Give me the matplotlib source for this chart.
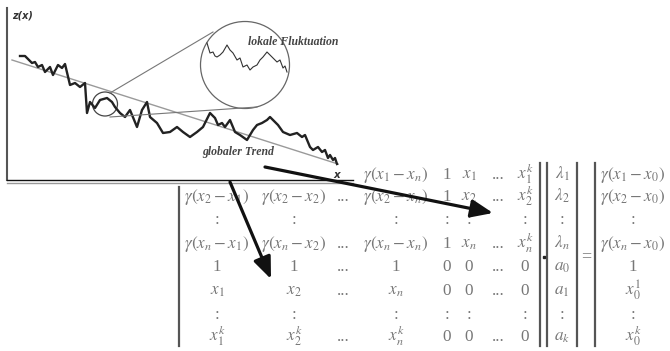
import numpy as np
import matplotlib.pyplot as plt
from matplotlib.patches import Ellipse

plt.rcParams['font.family'] = ['Liberation Serif', 'DejaVu Serif']
plt.rcParams['mathtext.fontset'] = 'stix'

# sketch data (chart units ~ pixels inside the panel)
trace_x = [13, 18, 25, 28, 31, 35, 38, 43, 46, 51, 55, 58, 63, 68, 73, 78, 80, 83, 88, 93,
           100, 105, 108, 113, 118, 123, 130, 135, 140, 143, 150, 156, 163, 170, 176, 183,
           190, 196, 203, 208, 211, 215, 218, 223, 228, 233, 240, 246, 250, 255, 260, 263,
           266, 271, 276, 283, 290, 295, 298, 303, 306, 311, 315, 318, 321, 323, 326, 328, 330]
trace_z = [124, 124, 117, 118, 113, 115, 108, 113, 105, 115, 112, 116, 95, 97, 93, 97, 67, 78, 72, 80,
           82, 78, 73, 67, 63, 70, 53, 70, 78, 63, 57, 47, 48, 53, 48, 43,
           48, 53, 67, 62, 55, 57, 53, 60, 48, 45, 40, 50, 55, 57, 60, 63,
           60, 55, 48, 45, 47, 43, 45, 33, 30, 33, 28, 30, 22, 25, 20, 22, 16]
trend_x = [5, 331]
trend_z = [120, 16]
zoom_x = [200, 203, 206, 208, 210, 213, 216, 220, 223, 226, 230, 233, 236, 240, 243, 246,
          250, 253, 256, 260, 263, 266, 270, 273, 276, 278, 280]
zoom_z = [137, 127, 128, 124, 123, 125, 128, 135, 130, 127, 120, 122, 113, 115, 110, 113,
          115, 120, 123, 128, 125, 122, 118, 120, 112, 114, 108]

# kriging system
matrix_rows = [
    [r'$\gamma\left(x_1-x_1\right)$', r'$\gamma\left(x_1-x_2\right)$', '...', r'$\gamma\left(x_1-x_n\right)$', '1', r'$x_1$', '...', r'$x_1^k$'],
    [r'$\gamma\left(x_2-x_1\right)$', r'$\gamma\left(x_2-x_2\right)$', '...', r'$\gamma\left(x_2-x_n\right)$', '1', r'$x_2$', '...', r'$x_2^k$'],
    [':', ':', '', ':', ':', ':', '', ':'],
    [r'$\gamma\left(x_n-x_1\right)$', r'$\gamma\left(x_n-x_2\right)$', '...', r'$\gamma\left(x_n-x_n\right)$', '1', r'$x_n$', '...', r'$x_n^k$'],
    ['1', '1', '...', '1', '0', '0', '...', '0'],
    [r'$x_1$', r'$x_2$', '...', r'$x_n$', '0', '0', '...', '0'],
    [':', ':', '', ':', ':', ':', '', ':'],
    [r'$x_1^k$', r'$x_2^k$', '...', r'$x_n^k$', '0', '0', '...', '0'],
]
weights = [r'$\lambda_1$', r'$\lambda_2$', ':', r'$\lambda_n$', r'$a_0$', r'$a_1$', ':', r'$a_k$']
rhs = [r'$\gamma\left(x_1-x_0\right)$', r'$\gamma\left(x_2-x_0\right)$', ':', r'$\gamma\left(x_n-x_0\right)$',
       '1', r'$x_0^1$', ':', r'$x_0^k$']

# layout (pixels, baselines)
row_y = [179, 201, 224, 248, 271, 295, 319, 341]
col_x = [217, 294, 343, 396, 447, 469, 498, 525]
hidden = {(0, 0), (0, 1), (0, 2)}  # under the chart panel

fig = plt.figure(figsize=(6.7, 3.51), dpi=100)
W, H = 670, 351

bg = fig.add_axes([0, 0, 1, 1])
bg.set_xlim(0, W)
bg.set_ylim(H, 0)
bg.axis('off')
tc = '#777777'
fs = 12.3
for i, row in enumerate(matrix_rows):
    for j, s in enumerate(row):
        if (i, j) in hidden or s == '':
            continue
        bg.text(col_x[j], row_y[i], s, ha='center', va='baseline', fontsize=fs, color=tc)
for i in range(len(weights)):
    bg.text(562, row_y[i], weights[i], ha='center', va='baseline', fontsize=fs, color=tc)
    bg.text(633, row_y[i], rhs[i], ha='center', va='baseline', fontsize=fs, color=tc)
bc = '#555555'
bg.plot([179, 179], [187, 346], color=bc, lw=1.6)
for bx in (540, 547, 577, 595):
    bg.plot([bx, bx], [163, 346], color=bc, lw=1.6)
bg.plot(543.5, 257, marker='s', ms=2, color='#222222')
bg.text(586, 257, '=', ha='center', va='center', fontsize=13, color=tc)

# chart panel
ax = fig.add_axes([7 / W, (H - 180) / H, 346 / W, 172 / H])
ax.set_xlim(0, 346)
ax.set_ylim(0, 172)
ax.set_facecolor('white')
ax.set_xticks([])
ax.set_yticks([])
ax.spines['top'].set_visible(False)
ax.spines['right'].set_visible(False)
ax.spines['left'].set_color('#555555')
ax.spines['left'].set_linewidth(1.5)
ax.spines['bottom'].set_color('#111111')
ax.spines['bottom'].set_linewidth(1.0)
ax.plot([0, 346], [-2.5, -2.5], color='#999999', lw=1.0, clip_on=False)

ax.plot(trend_x, trend_z, color='#9a9a9a', lw=1.0)
ax.plot(trace_x, trace_z, color='#222222', lw=1.7)
ax.plot([103, 206], [87, 148], color='#777777', lw=0.8)
ax.plot([103, 250], [63, 73], color='#777777', lw=0.8)
ax.add_patch(Ellipse((98, 76), 25, 24, fill=False, ec='#444444', lw=0.9))
ax.add_patch(Ellipse((238, 115), 89, 87, facecolor='white', ec='#666666', lw=0.9))
ax.plot(zoom_x, zoom_z, color='#333333', lw=0.8)

ax.text(241, 138, 'lokale Fluktuation', fontsize=8.5, style='italic', weight='bold',
        color='#444444', va='center', ha='left')
ax.text(195, 28, 'globaler Trend', fontsize=8.5, style='italic', weight='bold',
        color='#444444', va='center', ha='left')
ax.text(5, 165, 'z(x)', fontsize=7, style='italic', weight='bold', family='DejaVu Sans',
        color='#333333', va='center', ha='left')
ax.text(330, 5, 'x', fontsize=7.5, style='italic', weight='bold', family='DejaVu Sans',
        color='#333333', va='center', ha='center')

# arrows on top
top = fig.add_axes([0, 0, 1, 1])
top.set_xlim(0, W)
top.set_ylim(H, 0)
top.axis('off')
top.patch.set_alpha(0)
arrow = dict(arrowstyle='-|>,head_length=1.1,head_width=0.45', lw=2.3, color='#111111',
             mutation_scale=12, shrinkA=0, shrinkB=0)
top.annotate('', xy=(493, 213), xytext=(265, 167), arrowprops=arrow)
top.annotate('', xy=(271, 279), xytext=(230, 182), arrowprops=arrow)

fig.savefig('out.png', dpi=100)
